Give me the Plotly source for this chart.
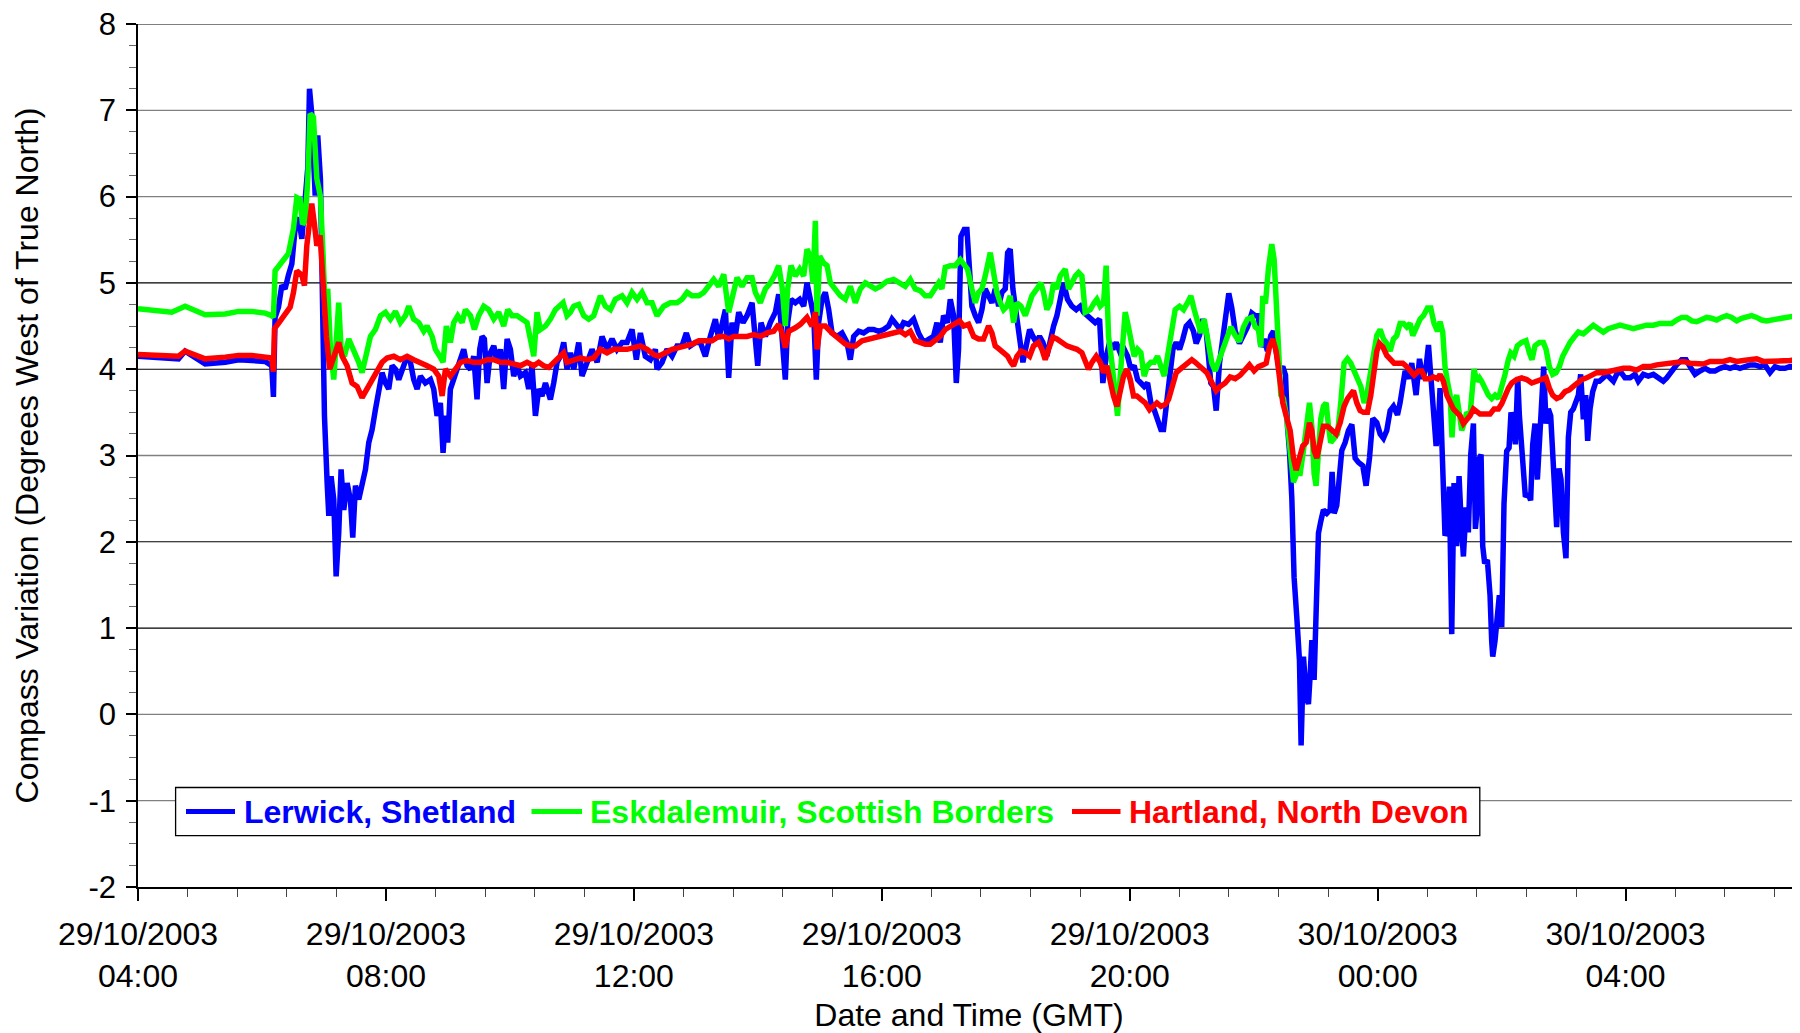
import pandas as pd
import plotly.graph_objects as go

BASE_TIME = "2003-10-29 04:00"

# ---- Lerwick, Shetland (minutes after 29/10/2003 04:00, degrees west) ----
LERWICK_MIN = [0, 20, 39.2, 45.6, 58.5, 65, 84.4, 97.3, 110.2, 123.1, 129.5, 131.1, 132.7, 136, 139.2, 142.4, 145.6,
    148.9, 152.1, 155.3, 158.6, 161.8, 164.4, 166, 168.2, 171.5, 174, 176.6, 178.2, 180.5, 183.1, 184.7, 186.9, 189.5,
    191.8, 194.3, 196.6, 199.2, 202.4, 205.6, 207.9, 210.5, 213.7, 216.9, 220.2, 223.4, 226.6, 229.8, 233.1, 236.3,
    239.5, 242.7, 246, 249.2, 252.4, 255.6, 260.5, 263.7, 266.9, 270.2, 273.4, 278.2, 283.1, 286.3, 289.5, 292.7,
    295.3, 297.6, 299.8, 302.4, 305.6, 308.9, 312.1, 315.3, 318.5, 321.8, 325, 328.2, 330.8, 333.1, 335.3, 337.9,
    341.1, 344.4, 347.6, 350.8, 354, 357.3, 360.5, 363.7, 367, 370.2, 375, 378.2, 381.4, 384.7, 387.9, 391.1, 394.4,
    399.2, 402.4, 405.7, 408.9, 412.1, 415.3, 418.6, 421.8, 426.6, 429.8, 434.7, 439.5, 444.4, 449.2, 454, 458.9,
    463.7, 468.6, 473.4, 478.2, 482.4, 486.3, 491.1, 496, 500.8, 502.4, 507.3, 512.1, 517, 521.8, 526.6, 530.8, 534.7,
    539.5, 544.4, 549.2, 554, 558.9, 562.1, 565.3, 568.6, 571.8, 575, 578.2, 581.5, 585.7, 589.5, 594.4, 597.6, 599.9,
    603.1, 607.3, 612.1, 617, 620.2, 623.4, 626.6, 628.9, 632.1, 636.3, 640.5, 644.4, 647.6, 650.8, 654.1, 656.6,
    658.9, 662.1, 665.3, 668.6, 671.8, 676.6, 681.5, 686.3, 689.5, 692.8, 697.6, 702.4, 707.3, 712.1, 717, 721.8,
    726.6, 729.9, 733.1, 737.9, 741.1, 745.9, 750.8, 755.6, 760.5, 765.3, 770.1, 773.4, 776.6, 779.8, 783.7, 786.3,
    789.5, 792.1, 794.3, 796.6, 799.8, 802.4, 805, 807.2, 810.5, 813.7, 816.9, 820.1, 823.4, 826.6, 829.8, 833.1,
    836.3, 839.5, 841.8, 844.3, 846.9, 850.1, 853.4, 856.6, 859.8, 863.1, 866.3, 869.5, 872.7, 876, 879.8, 883.1,
    886.3, 889.5, 892.7, 896, 899.8, 904, 908.2, 912.1, 915.3, 919.2, 923.4, 926.6, 930.8, 934, 937.3, 940.5, 943.7,
    946.9, 950.8, 954.7, 957.9, 961.1, 964.3, 967.6, 970.8, 974, 977.3, 980.5, 983.7, 986.9, 990.2, 992.7, 995.3,
    998.5, 1001.8, 1005, 1008.2, 1011.4, 1014.7, 1017.9, 1021.7, 1024.3, 1027.5, 1030.8, 1034, 1036.2, 1038.5, 1041.1,
    1043.7, 1046.9, 1050.8, 1053.3, 1055.9, 1058.8, 1062.1, 1066.2, 1070.1, 1074, 1078.2, 1081.4, 1084.6, 1086.9,
    1090.1, 1093.3, 1096.6, 1099.2, 1101.7, 1105, 1108.2, 1110.8, 1112.7, 1114.6, 1116.9, 1119.1, 1121.7, 1124.3,
    1125.9, 1128.2, 1130.8, 1133, 1134.6, 1136.3, 1138.5, 1140.4, 1142.7, 1145, 1147.5, 1150.8, 1154, 1155.9, 1157.9,
    1160.4, 1163, 1165.3, 1168.5, 1171.7, 1175, 1178.2, 1181.4, 1185.6, 1188.8, 1192.1, 1195.3, 1199.2, 1202.4,
    1205.6, 1208.8, 1212.1, 1215.3, 1219.2, 1221.7, 1224.3, 1226.6, 1229.8, 1233, 1237.2, 1240.5, 1243.7, 1246.9,
    1249.2, 1251.4, 1254, 1256.6, 1258.8, 1260.4, 1263, 1265.2, 1267.5, 1269.4, 1271.7, 1273.9, 1276.5, 1278.8,
    1280.7, 1283, 1285.6, 1287.8, 1290.1, 1292.7, 1294.6, 1296.5, 1298.5, 1300.1, 1301.7, 1303.6, 1306.2, 1308.8,
    1310.4, 1311.4, 1313.6, 1315.9, 1317.8, 1320.1, 1322.3, 1324.9, 1327.2, 1329.1, 1331.4, 1333.3, 1335.6, 1337.2,
    1339.1, 1341, 1343, 1345.6, 1348.1, 1350.1, 1352.3, 1354.6, 1356.5, 1358.8, 1360.7, 1363, 1365.2, 1367.5, 1369.4,
    1371.4, 1373.3, 1375.6, 1377.5, 1379.8, 1382.3, 1384.6, 1386.9, 1389.4, 1392, 1394.3, 1396.5, 1399.1, 1401.4,
    1403.3, 1405.6, 1408.2, 1411.4, 1414.6, 1418.5, 1421.7, 1424.9, 1428.2, 1431.4, 1434.6, 1439.4, 1444.3, 1449.1,
    1452.3, 1457.2, 1462, 1466.9, 1471.7, 1476.5, 1479.8, 1484.6, 1489.4, 1494.3, 1498.5, 1502.4, 1507.2, 1512,
    1516.9, 1521.7, 1526.5, 1531.4, 1536.2, 1541.1, 1545.9, 1550.7, 1555.6, 1560.4, 1565.3, 1570.1, 1574.9, 1579.8,
    1584.6, 1589.4, 1594.3, 1599.1, 1604, 1608.8]
LERWICK_VAL = [4.15, 4.14, 4.12, 4.21, 4.10, 4.06, 4.08, 4.11, 4.10, 4.09, 4.04, 3.68, 4.60, 4.72, 4.97, 4.93, 5.09,
    5.22, 5.63, 5.76, 5.51, 6.09, 6.34, 7.25, 6.96, 6.01, 6.71, 6.2, 4.62, 3.46, 2.68, 2.30, 2.76, 2.49,
    1.60, 2.10, 2.84, 2.37, 2.68, 2.49, 2.05, 2.65, 2.49, 2.65, 2.84, 3.15, 3.30, 3.53, 3.77, 3.96,
    3.84, 3.77, 4.04, 4.0, 3.88, 4.0, 4.15, 4.08, 3.88, 3.77, 3.92, 3.84, 3.88, 3.77, 3.46, 3.61,
    3.03, 3.46, 3.15, 3.77, 3.88, 4.0, 4.08, 4.23, 4.04, 4.0, 4.15, 3.65, 4.23, 4.38, 4.35, 3.84,
    4.19, 4.27, 4.08, 4.23, 3.77, 4.35, 4.23, 3.92, 4.04, 3.92, 3.96, 3.77, 4.04, 3.46, 3.77, 3.69, 3.84,
    3.65, 3.84, 4.08, 4.15, 4.31, 4.0, 4.19, 4.0, 4.31, 3.92, 4.08, 4.23, 4.08, 4.38, 4.23, 4.35,
    4.23, 4.31, 4.31, 4.46, 4.11, 4.42, 4.15, 4.11, 4.23, 4.0, 4.08, 4.23, 4.15, 4.27, 4.27, 4.42, 4.27,
    4.31, 4.31, 4.15, 4.38, 4.58, 4.35, 4.54, 4.69, 3.90, 4.54, 4.38, 4.66, 4.54, 4.62, 4.77, 4.38, 4.04,
    4.54, 4.38, 4.54, 4.66, 4.87, 4.38, 3.88, 4.54, 4.81, 4.77, 4.81, 4.73, 5.0, 4.81, 4.62, 3.88,
    4.54, 4.81, 4.89, 4.69, 4.42, 4.38, 4.42, 4.31, 4.11, 4.38, 4.44, 4.42, 4.46, 4.46, 4.44, 4.46,
    4.50, 4.58, 4.54, 4.46, 4.54, 4.52, 4.58, 4.42, 4.31, 4.35, 4.38, 4.54, 4.31, 4.62, 4.54, 4.81,
    4.62, 3.84, 4.23, 5.54, 5.62, 5.62, 5.08, 4.73, 4.62, 4.54, 4.69, 4.93, 4.85, 4.77, 4.93, 4.73,
    4.89, 4.93, 5.35, 5.39, 4.93, 4.62, 4.31, 4.08, 4.27, 4.46, 4.38, 4.31, 4.38, 4.31, 4.15, 4.35,
    4.50, 4.62, 4.81, 5.0, 4.81, 4.73, 4.69, 4.73, 4.66, 4.62, 4.58, 4.54, 4.58, 3.84, 4.15, 4.31, 4.23,
    4.31, 4.19, 4.23, 4.15, 4.0, 4.04, 3.88, 3.84, 3.80, 3.84, 3.61, 3.53, 3.42, 3.30, 3.30, 3.61,
    3.92, 4.23, 4.31, 4.23, 4.35, 4.50, 4.54, 4.44, 4.30, 4.39, 4.58, 4.44, 4.16, 3.84, 3.80,
    3.52, 4.07, 4.44, 4.71, 4.88, 4.71, 4.44, 4.30, 4.39, 4.49, 4.65, 4.62, 4.62, 4.26,
    4.35, 4.21, 4.39, 4.44, 4.21, 3.98, 4.03, 3.93, 3.34, 3.06, 2.51, 1.59, 1.13, 0.63,
    -0.36, 0.67, 0.21, 0.12, 0.44, 0.86, 0.40, 1.41, 2.10, 2.24, 2.37, 2.33, 2.37, 2.81, 2.33,
    2.42, 2.69, 3.06, 3.15, 3.29, 3.36, 2.97, 2.92, 2.88, 2.65, 2.97, 3.43, 3.38, 3.25,
    3.20, 3.29, 3.52, 3.57, 3.47, 3.61, 3.84, 3.98, 3.89, 4.07, 3.70, 4.12, 3.89, 4.03,
    4.28, 3.80, 3.52, 3.11, 3.34, 3.78, 2.89, 2.07, 2.15, 2.64, 0.93, 2.68, 1.95, 2.76,
    2.27, 1.83, 2.40, 2.11, 3.01, 3.37, 2.15, 2.40, 2.97, 3.01, 1.95, 1.75, 1.79, 1.38,
    0.85, 0.67, 0.85, 1.26, 1.38, 1.01, 2.44, 3.05, 3.09, 3.50, 3.37, 3.13, 3.90, 3.46,
    3.21, 2.80, 2.52, 2.56, 2.48, 3.13, 3.37, 2.72, 3.13, 3.46, 4.03, 3.37, 3.54, 3.46, 3.09,
    2.72, 2.17, 2.85, 2.72, 2.11, 1.81, 3.21, 3.50, 3.54, 3.62, 3.70, 3.94, 3.42, 3.70,
    3.17, 3.54, 3.74, 3.86, 3.86, 3.90, 3.94, 3.90, 3.86, 3.94, 3.98, 3.90, 3.90, 3.94,
    3.86, 3.94, 3.92, 3.94, 3.90, 3.86, 3.90, 3.98, 4.05, 4.11, 4.11, 4.03, 3.94, 3.98,
    4.01, 3.98, 3.98, 4.01, 4.03, 4.01, 4.03, 4.01, 4.03, 4.05, 4.05, 4.03, 4.05, 3.96,
    4.03, 4.01, 4.01, 4.03, 4.03, 4.05]

# ---- Eskdalemuir, Scottish Borders ----
ESKDALEMUIR_MIN = [0, 20, 32.7, 45.6, 58.5, 65, 84.4, 97.3, 110.2, 123.1, 129.5, 131.1, 132.7, 139.2, 145.6, 150.5,
    153.7, 157, 159.2, 161.8, 164.4, 166.6, 169.8, 173.1, 176.6, 179.2, 181.4, 183.7, 186.3, 189.5, 192.1, 194.3,
    196.6, 199.8, 204, 207.2, 210.5, 213.7, 216.9, 220.2, 225, 229.8, 234.7, 239.5, 244.3, 249.2, 254, 258.9, 262.1,
    266.9, 271.8, 276.6, 279.8, 284.7, 287.9, 292.1, 295.3, 298.5, 302.4, 305.6, 309.5, 313.7, 316.9, 321.8, 325.6,
    329.8, 334.7, 339.5, 344.4, 349.2, 354, 357.9, 362.1, 367, 371.8, 376.6, 380.5, 383.1, 386.3, 389.5, 394.4,
    399.2, 404, 407.3, 411.5, 415.3, 418.5, 421.8, 426.6, 431.5, 436.3, 441.1, 447.6, 452.4, 457.3, 462.1, 468.6,
    473.4, 478.2, 483.1, 487.9, 492.8, 497.6, 502.4, 508.9, 515.3, 521.8, 526.6, 531.5, 536.3, 542.8, 547.6, 552.4,
    557.3, 562.1, 567, 571.8, 576.6, 579.9, 584.7, 589.5, 594.4, 597.6, 602.4, 607.3, 612.1, 616, 620.2, 623.4,
    626.6, 628.9, 632.1, 636.3, 640.5, 644.4, 647.6, 650.8, 653.4, 655.7, 657.3, 659.9, 663.7, 667, 670.2, 675,
    679.9, 684.7, 689.5, 694.4, 699.2, 704.1, 708.9, 713.7, 718.6, 725, 731.5, 737.9, 742.7, 747.6, 752.4, 757.2,
    762.1, 766.9, 771.8, 775, 778.2, 781.4, 786.3, 791.1, 796, 799.2, 803, 807.2, 810.5, 813.7, 816.9, 820.1,
    823.4, 825, 828.2, 831.4, 834.7, 837.9, 841.1, 844.3, 847.6, 850.8, 854.7, 858.9, 862.1, 865.3, 870.1, 874,
    876.6, 879.8, 883.1, 886.3, 889.5, 892.7, 897.6, 900.8, 904, 907.3, 910.5, 913.7, 916.9, 921.8, 925.6, 928.2,
    931.4, 934.7, 937.2, 939.5, 942.7, 946, 948.2, 950.8, 953.4, 955.6, 957.9, 961.1, 964.3, 967.6, 970.8, 974,
    977.3, 980.5, 983.7, 986.9, 990.2, 993.4, 996.6, 999.8, 1004, 1008.2, 1012.1, 1016, 1019.2, 1022.4, 1025.6,
    1028.9, 1032.1, 1035.3, 1037.9, 1039.5, 1042.7, 1046.9, 1050.8, 1054, 1057.9, 1062.1, 1066.2, 1070.1, 1074,
    1078.2, 1081.4, 1084.6, 1086.9, 1088.8, 1091.4, 1094.3, 1097.5, 1099.8, 1101.7, 1104, 1106.2, 1108.8, 1112.1,
    1115.3, 1118.5, 1121.7, 1125, 1128.2, 1131.4, 1134, 1136.3, 1138.5, 1140.4, 1142.7, 1145, 1147.5, 1150.1,
    1152.4, 1154.6, 1157.9, 1161.1, 1164.3, 1167.5, 1170.8, 1174, 1177.2, 1180.4, 1183.7, 1186.9, 1189.5, 1192.7,
    1195.9, 1199.2, 1202.4, 1205.6, 1208.8, 1212.1, 1215.3, 1218.5, 1221.7, 1225, 1228.2, 1231.4, 1234, 1237.2,
    1241.1, 1244.3, 1248.2, 1251.4, 1254.6, 1257.9, 1260.4, 1263, 1265.2, 1267.5, 1270.1, 1272, 1274, 1276.5,
    1279.1, 1281.4, 1283.6, 1286.2, 1289.4, 1291.4, 1293.3, 1295.9, 1298.5, 1300.7, 1304, 1307.2, 1310.4, 1313.6,
    1316.9, 1320.1, 1323.3, 1326.5, 1328.8, 1332, 1335.2, 1339.4, 1343.6, 1346.9, 1349.4, 1352.3, 1356.5, 1360.4,
    1363, 1366.2, 1369.4, 1372.7, 1375.9, 1379.1, 1382.3, 1386.2, 1390.1, 1394.3, 1399.1, 1404, 1408.8, 1413.6,
    1418.5, 1423.3, 1428.2, 1434.6, 1441.1, 1447.5, 1454, 1460.4, 1466.9, 1473.3, 1479.8, 1484.6, 1489.4, 1494.3,
    1499.1, 1504, 1508.8, 1513.6, 1518.5, 1523.3, 1528.2, 1533, 1537.8, 1542.7, 1547.5, 1552.4, 1557.2, 1562,
    1566.9, 1571.7, 1576.5, 1581.4, 1586.2, 1591.1, 1595.9, 1600.7, 1605.6, 1608.8]
ESKDALEMUIR_VAL = [4.70, 4.68, 4.66, 4.73, 4.67, 4.63, 4.64, 4.67, 4.67, 4.65, 4.62, 4.60, 5.14, 5.24, 5.34, 5.63,
    5.99, 5.97, 5.68, 5.72, 6.21, 6.96, 6.92, 6.21, 6.0, 5.31, 4.62, 4.93, 4.23, 3.88, 4.38, 4.77,
    4.23, 4.15, 4.35, 4.27, 4.19, 4.08, 3.96, 4.15, 4.38, 4.46, 4.62, 4.66, 4.58, 4.67, 4.54, 4.62, 4.73,
    4.58, 4.54, 4.44, 4.50, 4.38, 4.23, 4.15, 4.08, 4.50, 4.31, 4.54, 4.62, 4.54, 4.69, 4.62, 4.46,
    4.62, 4.73, 4.69, 4.58, 4.66, 4.50, 4.69, 4.62, 4.62, 4.58, 4.54, 4.31, 4.15, 4.66, 4.46, 4.50,
    4.58, 4.69, 4.73, 4.77, 4.62, 4.66, 4.73, 4.75, 4.62, 4.58, 4.62, 4.85, 4.73, 4.69, 4.81, 4.85,
    4.77, 4.89, 4.81, 4.89, 4.77, 4.77, 4.62, 4.73, 4.77, 4.77, 4.81, 4.89, 4.85, 4.85, 4.89, 4.96,
    5.04, 4.96, 5.10, 4.66, 4.93, 5.06, 4.96, 5.06, 5.06, 4.89, 4.77, 4.93, 5.0, 5.08, 5.20, 4.96,
    4.50, 4.93, 5.20, 5.08, 5.16, 5.08, 5.39, 5.31, 5.0, 5.72, 4.62, 5.31, 5.23, 5.20, 5.0, 4.93,
    4.85, 4.81, 4.96, 4.77, 4.93, 5.0, 4.96, 4.93, 4.96, 5.02, 5.04, 5.0, 4.96, 5.04, 4.93, 4.91,
    4.85, 4.85, 4.93, 5.0, 4.93, 5.18, 5.20, 5.20, 5.27, 5.23, 5.16, 4.93, 4.77, 4.89, 4.93, 5.08,
    5.31, 5.35, 5.12, 4.89, 4.77, 4.69, 4.73, 4.85, 4.54, 4.77, 4.73, 4.62, 4.73, 4.85, 4.93, 5.0,
    4.89, 4.69, 4.77, 5.0, 4.93, 5.08, 5.16, 4.93, 5.0, 5.08, 5.12, 5.08, 4.66, 4.69, 4.77, 4.81,
    4.73, 4.77, 5.20, 4.38, 4.08, 3.77, 3.46, 3.92, 4.38, 4.66, 4.54, 4.31, 4.15, 4.23, 4.19, 3.92,
    4.04, 4.08, 4.08, 4.15, 4.04, 3.92, 4.15, 4.38, 4.69, 4.73, 4.69, 4.77, 4.85, 4.69, 4.54,
    4.42, 4.58, 4.38, 4.15, 4.07, 3.98, 4.12, 4.26, 4.39, 4.49, 4.39, 4.32, 4.49, 4.58,
    4.60, 4.49, 4.46, 4.26, 4.85, 4.76, 5.17, 5.45, 5.27, 4.90, 4.26, 3.70, 3.66, 3.43,
    3.11, 2.69, 2.79, 2.79, 3.06, 3.34, 3.61, 3.34, 2.79, 2.65, 3.15, 3.43, 3.57, 3.61,
    3.34, 3.15, 3.20, 3.25, 3.61, 4.07, 4.12, 4.07, 3.98, 3.89, 3.80, 3.61, 3.70, 3.93,
    4.21, 4.39, 4.46, 4.35, 4.30, 4.21, 4.35, 4.39, 4.53, 4.53, 4.49, 4.53, 4.39, 4.49,
    4.58, 4.62, 4.71, 4.71, 4.53, 4.44, 4.55, 4.43, 4.03, 3.86, 3.70, 3.21, 3.62, 3.70,
    3.42, 3.29, 3.37, 3.50, 3.46, 3.78, 4.0, 3.86, 3.90, 3.86, 3.78, 3.70, 3.66, 3.70,
    3.66, 3.78, 3.94, 4.11, 4.19, 4.15, 4.27, 4.31, 4.33, 4.19, 4.11, 4.27, 4.31, 4.31,
    4.23, 4.03, 3.94, 3.96, 4.03, 4.15, 4.23, 4.31, 4.37, 4.43, 4.41, 4.47, 4.51, 4.47,
    4.43, 4.47, 4.49, 4.51, 4.49, 4.47, 4.49, 4.51, 4.51, 4.53, 4.53, 4.53, 4.57, 4.60,
    4.60, 4.56, 4.55, 4.57, 4.60, 4.59, 4.57, 4.60, 4.62, 4.60, 4.56, 4.59, 4.60, 4.62,
    4.60, 4.57, 4.56, 4.57, 4.58, 4.59, 4.59, 4.60, 4.62, 4.60]

# ---- Hartland, North Devon ----
HARTLAND_MIN = [0, 20, 39.2, 45.6, 58.5, 65, 84.4, 97.3, 110.2, 123.1, 129.5, 131.1, 132.1, 136, 142.4, 147.3, 150.5,
    153.7, 158.6, 161.1, 163.4, 165.7, 168.2, 170.8, 173.1, 176.3, 179.2, 182.4, 185.6, 189.5, 194.3, 197.6, 202.4,
    207.2, 212.1, 216.9, 221.8, 226.6, 231.4, 236.3, 241.1, 247.6, 254, 260.5, 266.9, 273.4, 279.8, 286.3, 291.1,
    294.4, 297.6, 302.4, 307.3, 312.1, 318.5, 325, 331.4, 337.9, 344.4, 350.8, 357.3, 363.7, 370.2, 376.6, 383.1,
    387.9, 392.7, 397.6, 402.4, 407.3, 412.1, 415.3, 421.8, 428.2, 434.7, 441.1, 447.6, 454, 460.5, 466.9, 473.4,
    479.9, 486.3, 492.8, 499.2, 504, 510.5, 517, 523.4, 529.9, 536.3, 542.8, 549.2, 555.7, 562.1, 567, 571.8, 576.6,
    583.1, 589.5, 596, 602.4, 608.9, 615.3, 620.2, 623.4, 626.6, 629.9, 636.3, 641.2, 647.6, 652.4, 655.7, 657.3,
    660.5, 665.3, 671.8, 678.2, 684.7, 689.5, 694.4, 700.8, 707.3, 713.7, 720.2, 726.6, 733.1, 737.9, 742.7, 747.6,
    752.4, 757.2, 762.1, 766.9, 771.8, 776.6, 781.4, 786.3, 791.1, 795.3, 799.2, 804, 808.9, 813.7, 818.5, 823.4,
    826.6, 829.8, 834, 837.9, 841.8, 845, 847.6, 850.8, 854.7, 858.9, 863.1, 866.9, 871.8, 875, 878.2, 881.4, 885.6,
    889.5, 894.3, 899.2, 904, 908.9, 913.7, 916.9, 920.1, 923.4, 927.6, 931.4, 934.7, 937.9, 941.1, 944.3, 947.6,
    950.8, 954, 957.3, 960.5, 963.7, 966.9, 970.8, 975, 979.2, 983, 986.3, 990.2, 994.3, 997.6, 1000.8, 1005,
    1008.9, 1012.7, 1016.9, 1020.1, 1023.4, 1027.6, 1031.4, 1034.7, 1037.9, 1039.5, 1043.7, 1047.5, 1052.4, 1057.2,
    1062.1, 1066.9, 1071.7, 1075.9, 1080.4, 1084.6, 1088.8, 1092.1, 1095.3, 1098.5, 1101.7, 1105, 1108.2, 1112.1,
    1115.3, 1118.5, 1121.1, 1124.3, 1127.5, 1130.8, 1134, 1136.3, 1138.5, 1141.1, 1144.3, 1147.5, 1151.4, 1155.6,
    1159.8, 1163.7, 1167.5, 1170.8, 1174, 1176.6, 1179.8, 1183, 1186.3, 1190.1, 1193.4, 1196.6, 1199.2, 1201.7,
    1205, 1208.8, 1212.1, 1215.9, 1220.1, 1224.3, 1228.2, 1231.4, 1235.3, 1239.5, 1242.7, 1245.9, 1250.1, 1254,
    1257.9, 1260.4, 1263.6, 1266.9, 1270.1, 1273.3, 1276.5, 1279.8, 1283, 1286.2, 1289.4, 1292.7, 1295.9, 1299.1,
    1304, 1308.8, 1312.7, 1316.9, 1320.1, 1323.3, 1326.5, 1329.8, 1334.6, 1339.4, 1344.3, 1349.1, 1354, 1358.8,
    1363, 1366.2, 1369.4, 1373.3, 1377.2, 1381.4, 1385.6, 1389.4, 1393.3, 1397.5, 1402.3, 1407.2, 1412, 1418.5,
    1424.9, 1431.4, 1437.8, 1444.3, 1450.7, 1457.2, 1463.6, 1470.1, 1476.5, 1483, 1489.4, 1495.9, 1502.4, 1508.8,
    1515.3, 1521.7, 1528.2, 1534.6, 1541.1, 1547.5, 1554, 1560.4, 1566.9, 1573.3, 1579.8, 1586.2, 1592.7, 1599.1,
    1605.6, 1608.8]
HARTLAND_VAL = [4.17, 4.16, 4.15, 4.21, 4.14, 4.12, 4.14, 4.16, 4.16, 4.15, 4.13, 3.97, 4.47, 4.53, 4.64, 4.72, 4.89,
    5.14, 5.09, 4.97, 5.43, 5.72, 5.92, 5.68, 5.43, 5.55, 4.93, 4.38, 4.0, 4.15, 4.31, 4.15, 4.04,
    3.84, 3.80, 3.67, 3.77, 3.88, 3.96, 4.08, 4.13, 4.15, 4.11, 4.15, 4.11, 4.08, 4.04, 4.0, 3.92,
    3.69, 4.0, 3.92, 4.0, 4.08, 4.10, 4.08, 4.08, 4.11, 4.11, 4.08, 4.08, 4.06, 4.04, 4.08, 4.04,
    4.08, 4.04, 4.02, 4.08, 4.15, 4.19, 4.08, 4.11, 4.13, 4.11, 4.13, 4.23, 4.19, 4.23, 4.23, 4.23,
    4.25, 4.27, 4.23, 4.17, 4.15, 4.19, 4.23, 4.25, 4.27, 4.29, 4.33, 4.33, 4.33, 4.38, 4.38, 4.35, 4.38,
    4.38, 4.38, 4.40, 4.38, 4.42, 4.44, 4.52, 4.42, 4.25, 4.44, 4.48, 4.52, 4.60, 4.50, 4.66, 4.23,
    4.50, 4.50, 4.42, 4.35, 4.29, 4.27, 4.27, 4.33, 4.35, 4.37, 4.38, 4.40, 4.42, 4.44, 4.40, 4.44,
    4.33, 4.31, 4.29, 4.29, 4.33, 4.38, 4.46, 4.50, 4.52, 4.56, 4.50, 4.52, 4.38, 4.35, 4.35, 4.50,
    4.42, 4.27, 4.23, 4.19, 4.15, 4.08, 4.04, 4.15, 4.21, 4.19, 4.15, 4.27, 4.31, 4.23, 4.11, 4.23, 4.37,
    4.35, 4.31, 4.27, 4.25, 4.23, 4.19, 4.08, 4.0, 4.08, 4.15, 4.08, 3.96, 4.04, 3.84, 3.69, 3.57,
    3.73, 3.92, 4.0, 3.88, 3.69, 3.69, 3.65, 3.61, 3.53, 3.57, 3.61, 3.57, 3.59, 3.65, 3.80, 3.96,
    4.0, 4.04, 4.08, 4.11, 4.08, 4.04, 4.0, 3.96, 3.88, 3.84, 3.75, 3.80, 3.84, 3.91,
    3.89, 3.93, 4.0, 4.05, 3.98, 4.03, 4.05, 4.07, 4.26, 4.35, 4.21, 3.84, 3.61, 3.43,
    3.29, 2.97, 2.83, 2.97, 3.11, 3.15, 3.38, 3.29, 3.06, 2.97, 3.15, 3.34, 3.34, 3.29,
    3.25, 3.38, 3.57, 3.66, 3.70, 3.75, 3.61, 3.52, 3.50, 3.50, 3.70, 3.98, 4.21, 4.30,
    4.26, 4.16, 4.12, 4.07, 4.07, 4.07, 4.03, 3.98, 3.93, 3.98, 3.98, 3.89, 3.89, 3.91,
    3.89, 3.94, 3.86, 3.70, 3.62, 3.54, 3.50, 3.46, 3.37, 3.41, 3.46, 3.54, 3.50, 3.48,
    3.48, 3.48, 3.54, 3.54, 3.60, 3.70, 3.78, 3.84, 3.88, 3.90, 3.88, 3.84, 3.86, 3.88,
    3.90, 3.78, 3.70, 3.66, 3.68, 3.74, 3.76, 3.80, 3.84, 3.88, 3.90, 3.94, 3.96, 3.96,
    3.98, 3.99, 4.01, 4.01, 3.99, 4.03, 4.03, 4.05, 4.06, 4.06, 4.07, 4.09, 4.07, 4.07,
    4.06, 4.09, 4.09, 4.09, 4.11, 4.09, 4.10, 4.11, 4.12, 4.09, 4.09, 4.09, 4.10, 4.10,
    4.11, 4.11]

TICK_TIMES = ["2003-10-29 04:00", "2003-10-29 08:00", "2003-10-29 12:00", "2003-10-29 16:00",
              "2003-10-29 20:00", "2003-10-30 00:00", "2003-10-30 04:00"]
TICK_LABELS = ["29/10/2003<br>04:00", "29/10/2003<br>08:00", "29/10/2003<br>12:00", "29/10/2003<br>16:00",
               "29/10/2003<br>20:00", "30/10/2003<br>00:00", "30/10/2003<br>04:00"]
Y_TICKS = [-2, -1, 0, 1, 2, 3, 4, 5, 6, 7, 8]
Y_TICK_LABELS = ["-2", "-1", "0", "1", "2", "3", "4", "5", "6", "7", "8"]
GRID_DARK = [1, 2, 4, 5, 8]
GRID_LIGHT = [-1, 0, 3, 6, 7]
X_END = "2003-10-30 06:48:50"

SERIES = [
    ("Lerwick, Shetland", LERWICK_MIN, LERWICK_VAL, "#0000FF"),
    ("Eskdalemuir, Scottish Borders", ESKDALEMUIR_MIN, ESKDALEMUIR_VAL, "#00FF00"),
    ("Hartland, North Devon", HARTLAND_MIN, HARTLAND_VAL, "#FF0000"),
]

# ---- layout geometry (page pixels); the page body adds an 8px offset ----
BODY = 8
PAGE_W, PAGE_H = 1800, 1033
PLOT_L, PLOT_R, PLOT_T, PLOT_B = 138, 1800, 24, 887
# custom legend: box, then per item the sample line span and text start
LEG_BOX = (175.6, 1479.8, 787.5, 835.7)
LEG_ITEMS = [(186, 235, 243), (531.5, 582, 589), (1072, 1120.5, 1128)]


def px(x):
    return (x - PLOT_L) / (PLOT_R - PLOT_L)


def py(y):
    return (PLOT_B - y) / (PLOT_B - PLOT_T)


base = pd.Timestamp(BASE_TIME)
FONT = "Liberation Sans, Arial, sans-serif"

fig = go.Figure()
for name, mins, vals, color in SERIES:
    times = base + pd.to_timedelta(mins, unit="m")
    fig.add_trace(go.Scatter(
        x=times, y=vals, mode="lines",
        line=dict(color=color, width=5.5),
        name=name, showlegend=False,
    ))

shapes = []
for v in GRID_LIGHT:
    shapes.append(dict(type="line", xref="paper", yref="y", x0=0, x1=1, y0=v, y1=v,
                       line=dict(color="#808080", width=1.3), layer="below"))
for v in GRID_DARK:
    shapes.append(dict(type="line", xref="paper", yref="y", x0=0, x1=1, y0=v, y1=v,
                       line=dict(color="#000000", width=1.1), layer="below"))

# legend box
bx0, bx1, by0, by1 = LEG_BOX
shapes.append(dict(type="rect", xref="paper", yref="paper",
                   x0=px(bx0), x1=px(bx1), y0=py(by1), y1=py(by0),
                   fillcolor="white", line=dict(color="black", width=1.3), layer="above"))
annotations = []
ymid = py((by0 + by1) / 2)
for (name, _, _, color), (lx0, lx1, tx) in zip(SERIES, LEG_ITEMS):
    shapes.append(dict(type="line", xref="paper", yref="paper", x0=px(lx0), x1=px(lx1), y0=ymid, y1=ymid,
                       line=dict(color=color, width=5), layer="above"))
    annotations.append(dict(xref="paper", yref="paper", x=px(tx), y=ymid, xanchor="left", yanchor="middle",
                            text=f"<b>{name}</b>", showarrow=False,
                            font=dict(family=FONT, size=32, color=color), borderpad=0))

fig.update_layout(
    width=PAGE_W - BODY, height=PAGE_H - BODY,
    margin=dict(l=PLOT_L - BODY, r=PAGE_W - PLOT_R, t=PLOT_T - BODY, b=(PAGE_H - BODY) - (PLOT_B - BODY)),
    paper_bgcolor="white", plot_bgcolor="white",
    font=dict(family=FONT, size=32, color="black"),
    showlegend=False,
    shapes=shapes,
    annotations=annotations,
)

fig.update_xaxes(
    type="date", range=[base, pd.Timestamp(X_END)],
    tickmode="array", tickvals=TICK_TIMES, ticktext=TICK_LABELS,
    ticks="outside", ticklen=12, tickwidth=1.5, tickcolor="black",
    tickfont=dict(family=FONT, size=32), ticklabelstandoff=6, ticklabeloverflow="allow",
    showline=True, linecolor="black", linewidth=1.5,
    showgrid=False, zeroline=False,
    minor=dict(ticks="outside", ticklen=8, tickwidth=1.2, tickcolor="#444",
               dtick=48 * 60 * 1000, tick0=BASE_TIME, showgrid=False),
    title=dict(text="Date and Time (GMT)", font=dict(family=FONT, size=32), standoff=13),
)
fig.update_yaxes(
    range=[-2, 8], tickmode="array", tickvals=Y_TICKS, ticktext=Y_TICK_LABELS,
    ticks="outside", ticklen=10, tickwidth=1.5, tickcolor="black",
    tickfont=dict(family=FONT, size=31), ticklabelstandoff=4, ticklabeloverflow="allow",
    showline=True, linecolor="black", linewidth=1.5,
    showgrid=False, zeroline=False,
    minor=dict(ticks="outside", ticklen=7, tickwidth=1.2, tickcolor="#666",
               tickvals=[v / 4 for v in range(-8, 33) if v % 4 != 0], showgrid=False),
    title=dict(text="Compass Variation (Degrees West of True North)", font=dict(family=FONT, size=32), standoff=40),
)

fig.write_html("out.html")
